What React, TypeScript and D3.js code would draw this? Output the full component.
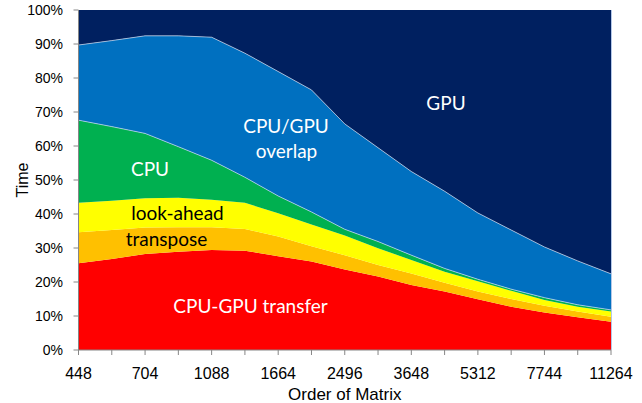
import React from "react";
import * as d3 from "d3";

const categories = ["448", "576", "704", "896", "1088", "1344", "1664", "2048", "2496", "3008", "3648", "4416", "5312", "6464", "7744", "9344", "11264"];
const shownLabels = ["448", "704", "1088", "1664", "2496", "3648", "5312", "7744", "11264"];

const transferValues = [25.5, 26.8, 28.2, 28.9, 29.4, 29.2, 27.6, 26.0, 23.7, 21.6, 19.1, 17.2, 14.9, 12.7, 11.0, 9.6, 8.3];
const transposeValues = [9.1, 8.5, 7.8, 7.2, 6.7, 6.4, 5.8, 4.5, 4.2, 3.4, 3.4, 2.6, 2.3, 2.3, 2.0, 1.7, 1.5];
const lookaheadValues = [8.7, 8.6, 8.6, 8.7, 8.1, 7.7, 6.8, 6.4, 5.8, 4.9, 4.0, 3.2, 3.0, 2.4, 1.7, 1.4, 1.5];
const cpuValues = [24.3, 21.8, 19.1, 15.0, 11.6, 7.5, 5.1, 3.7, 1.8, 2.0, 1.4, 1.0, 0.6, 0.5, 0.7, 0.6, 0.5];
const overlapValues = [22.1, 25.3, 28.7, 32.6, 36.2, 36.5, 36.6, 35.9, 31.0, 27.6, 24.6, 22.7, 19.5, 17.4, 14.9, 12.9, 10.6];
const gpuValues = [10.3, 9.0, 7.6, 7.6, 8.0, 12.7, 18.1, 23.5, 33.5, 40.5, 47.5, 53.3, 59.7, 64.7, 69.7, 73.8, 77.6];

const seriesKeys = ["transfer", "transpose", "lookahead", "cpu", "overlap", "gpu"];
const seriesColors = ["#FF0000", "#FFC000", "#FFFF00", "#00B050", "#0070C0", "#002060"];
const yTicks = [0, 10, 20, 30, 40, 50, 60, 70, 80, 90, 100];

const W = 642;
const H = 403;
const left = 78.5;
const right = 611;
const top = 10;
const bottom = 350;

export default function App() {
  const rows = categories.map((c, i) => ({
    cat: c,
    transfer: transferValues[i],
    transpose: transposeValues[i],
    lookahead: lookaheadValues[i],
    cpu: cpuValues[i],
    overlap: overlapValues[i],
    gpu: gpuValues[i],
  }));
  const stacked = d3.stack<any>().keys(seriesKeys)(rows);
  const x = d3.scalePoint<string>().domain(categories).range([left, right]);
  const y = d3.scaleLinear().domain([0, 100]).range([bottom, top]);
  const area = d3
    .area<any>()
    .x((d: any) => x(d.data.cat) as number)
    .y0((d: any) => y(d[0]))
    .y1((d: any) => y(d[1]));
  const topLine = d3
    .line<any>()
    .x((d: any) => x(d.data.cat) as number)
    .y((d: any) => y(d[1]));

  const axisFont = "'Liberation Sans', Arial, sans-serif";
  const narrowFont = "'Liberation Sans Narrow', 'Arial Narrow', 'Liberation Sans', sans-serif";
  const labelFont = "Lato, 'Open Sans', sans-serif";
  const fs = 19;

  return (
    <svg width={W} height={H} style={{ position: "absolute", left: 0, top: 0, background: "#fff" }}>
      {stacked.map((s, i) => (
        <path key={s.key} d={area(s) as string} fill={seriesColors[i]} />
      ))}
      {[stacked[3], stacked[4]].map((s) => (
        <path key={"l" + s.key} d={topLine(s) as string} fill="none" stroke="#c9daf0" strokeWidth={0.7} />
      ))}
      {/* right border */}
      <line x1={right + 0.5} x2={right + 0.5} y1={top} y2={bottom} stroke="#b4c7e7" strokeWidth={1} />
      {/* y axis */}
      <line x1={left} x2={left} y1={top} y2={bottom} stroke="#868686" strokeWidth={1} />
      {yTicks.map((t) => (
        <g key={t}>
          <line x1={left - 5} x2={left} y1={y(t)} y2={y(t)} stroke="#868686" strokeWidth={1} />
          <text x={63} y={y(t) + 5} textAnchor="end" fontFamily={axisFont} fontSize={14} fill="#000">
            {t + "%"}
          </text>
        </g>
      ))}
      {/* x axis */}
      <line x1={left} x2={right} y1={bottom} y2={bottom} stroke="#868686" strokeWidth={1} />
      {categories.map((c) => (
        <line key={c} x1={x(c)} x2={x(c)} y1={bottom} y2={bottom + 5} stroke="#868686" strokeWidth={1} />
      ))}
      {shownLabels.map((c) => (
        <text key={c} x={x(c)} y={379} textAnchor="middle" fontFamily={narrowFont} fontSize={16} fill="#000">
          {c}
        </text>
      ))}
      <text x={(left + right) / 2} y={400} textAnchor="middle" fontFamily={narrowFont} fontSize={17} fill="#000">
        Order of Matrix
      </text>
      <text transform={`translate(28,${(top + bottom) / 2}) rotate(-90)`} textAnchor="middle" fontFamily={axisFont} fontSize={16} fill="#000">
        Time
      </text>
      {/* in-plot labels */}
      <text x={446} y={110} textAnchor="middle" fontFamily={labelFont} fontSize={fs} fill="#fff">GPU</text>
      <text x={286} y={133} textAnchor="middle" fontFamily={labelFont} fontSize={fs} fill="#fff">CPU/GPU</text>
      <text x={286.5} y={158} textAnchor="middle" fontFamily={labelFont} fontSize={fs} fill="#fff">overlap</text>
      <text x={150} y={176} textAnchor="middle" fontFamily={labelFont} fontSize={fs} fill="#fff">CPU</text>
      <text x={177.5} y={220} textAnchor="middle" fontFamily={labelFont} fontSize={fs} fill="#000">look-ahead</text>
      <text x={166.5} y={246} textAnchor="middle" fontFamily={labelFont} fontSize={fs} fill="#000">transpose</text>
      <text x={250.5} y={313} textAnchor="middle" fontFamily={labelFont} fontSize={fs} fill="#fff">CPU-GPU transfer</text>
    </svg>
  );
}
